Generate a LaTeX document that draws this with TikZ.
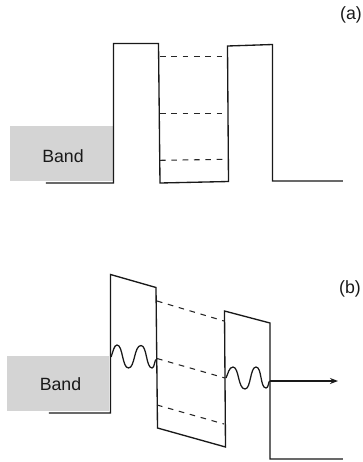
\documentclass[tikz,border=0pt]{standalone}
\usepackage{fontspec}
\setmainfont{Liberation Sans}
\usetikzlibrary{arrows.meta}
\tikzset{
  profile/.style={line width=1pt,line join=miter,draw=black!90},
  level/.style={line width=0.8pt,dash pattern=on 4.2pt off 4.3pt,draw=black!85},
  wave/.style={line width=0.95pt,draw=black!90},
  bandbox/.style={fill=black!17,draw=none},
  txt/.style={font=\fontsize{13.3pt}{15pt}\selectfont,text=black!90,inner sep=0pt}
}
\begin{document}
\begin{tikzpicture}[x=0.75pt,y=-0.75pt]
\useasboundingbox (0,0) rectangle (363,462);
% panel (a)
\fill[bandbox] (10,126) rectangle (113,181);
\node[txt] (banda) at (63,156) {Band};
\node[txt] (la) at (351,15) {(a)};
\draw[profile] (46,183) -- (113.5,183) -- (113.5,43.5) -- (158.5,43.5) -- (160,183) -- (228.5,181.5) -- (227.5,46) -- (272.5,44.5) -- (272.5,181) -- (343,181);
\draw[level] (160,56.5) -- (227,56.5);
\draw[level] (160,113.5) -- (227,113.5);
\draw[level] (160,160.3) -- (227,159.3);
% panel (b)
\fill[bandbox] (7,356) rectangle (109,411);
\node[txt] (bandb) at (60.5,384) {Band};
\node[txt] (lb) at (350,289) {(b)};
\draw[profile] (49,413) -- (110.5,413) -- (110.5,274.5) -- (156,287.5) -- (157.5,428) -- (225.5,447) -- (224.5,311) -- (270,323) -- (270,459) -- (343,459);
\draw[level] (157,301) -- (224,321);
\draw[level] (157,358.5) -- (225,378);
\draw[level] (157,405) -- (224,424);
\coordinate (w1) at (111,357);
\coordinate (w2) at (157,359);
\coordinate (w3) at (226,378);
\coordinate (w4) at (270,381);
\coordinate (tip) at (338,381);
\draw[wave] (w1) .. controls (113,352) and (114,345) .. (117,345)
  .. controls (123,345) and (122,368) .. (128.5,368)
  .. controls (135,368) and (134,345.5) .. (141,345.5)
  .. controls (147,345.5) and (146,368) .. (152,368)
  .. controls (155,368) and (154,359) .. (w2);
\draw[wave] (w3) .. controls (228,374) and (229,367) .. (233,367)
  .. controls (239,367) and (238,389) .. (245,389)
  .. controls (251,389) and (250,367) .. (256,367)
  .. controls (262,367) and (260,388) .. (266,388)
  .. controls (269,388) and (268,381) .. (w4);
\draw[profile,-{Stealth[length=6pt,width=4.5pt]}] (w4) -- (tip);
\end{tikzpicture}
\end{document}
